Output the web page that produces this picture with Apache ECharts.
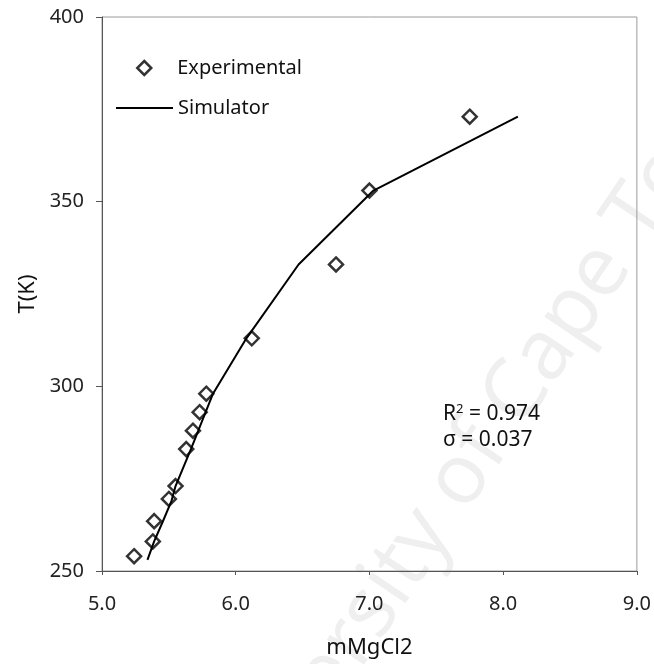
<!DOCTYPE html>
<html>
<head>
<meta charset="utf-8">
<script src="https://cdn.jsdelivr.net/npm/echarts@6/dist/echarts.min.js"></script>
<style>
  html, body { margin: 0; padding: 0; background: #fff; }
  #chart { width: 654px; height: 664px; }
</style>
</head>
<body>
<div id="chart"></div>
<script>
// Measured points: MgCl2 molality vs temperature
const expMolality = [5.24, 5.38, 5.39, 5.50, 5.55, 5.63, 5.68, 5.73, 5.78, 6.12, 6.75, 7.00, 7.75];
const expTemp     = [254, 258, 263.5, 269.5, 273, 283, 288, 293, 298, 313, 333, 353, 373];

// Simulator prediction curve
const simMolality = [5.34, 5.39, 5.45, 5.52, 5.55, 5.665, 5.72, 5.775, 5.83, 6.08, 6.47, 7.03, 8.11];
const simTemp     = [253, 258, 263, 269, 273, 283, 288, 293, 298, 313, 333, 353, 373];

// Fit statistics
const fitR2 = '0.974';
const fitSigma = '0.037';

const FONT = '"Noto Sans", "Open Sans", sans-serif';
const expData = expMolality.map((x, i) => [x, expTemp[i]]);
const simData = simMolality.map((x, i) => [x, simTemp[i]]);

const legendText = { fontFamily: FONT, fontSize: 20, color: '#111' };

const chart = echarts.init(document.getElementById('chart'), null, { renderer: 'canvas' });
chart.setOption({
  backgroundColor: '#fff',
  animation: false,
  grid: {
    left: 102, right: 13, top: 17, bottom: 93,
    show: true, borderColor: '#9a9a9a', borderWidth: 1, backgroundColor: 'transparent'
  },
  legend: [
    {
      left: 136, top: 58, padding: 0,
      itemWidth: 14, itemHeight: 14,
      textStyle: Object.assign({ padding: [0, 0, 0, 21] }, legendText),
      data: [{ name: 'Experimental', icon: 'diamond',
        itemStyle: { color: 'transparent', borderColor: '#000', borderWidth: 2.5 } }]
    },
    {
      left: 115, top: 98, padding: 0,
      itemWidth: 57, itemHeight: 14,
      textStyle: legendText,
      data: [{ name: 'Simulator', itemStyle: { opacity: 0 },
        lineStyle: { color: '#000', width: 2 } }]
    }
  ],
  xAxis: {
    type: 'value', min: 5, max: 9, interval: 1,
    name: 'mMgCl2', nameLocation: 'middle', nameGap: 66,
    nameTextStyle: { fontFamily: FONT, fontSize: 22, color: '#111' },
    axisLine: { show: true, lineStyle: { color: '#555', width: 1 } },
    axisTick: { show: true, inside: false, length: 4, lineStyle: { color: '#555' } },
    axisLabel: { margin: 23, fontFamily: FONT, fontSize: 20, color: '#222',
      formatter: v => v.toFixed(1) },
    splitLine: { show: false }
  },
  yAxis: {
    type: 'value', min: 250, max: 400, interval: 50,
    name: 'T(K)', nameLocation: 'middle', nameGap: 63, nameRotate: 90,
    nameTextStyle: { fontFamily: FONT, fontSize: 22, color: '#111' },
    axisLine: { show: true, lineStyle: { color: '#555', width: 1 } },
    axisTick: { show: true, inside: false, length: 6, lineStyle: { color: '#555' } },
    axisLabel: { margin: 18, fontFamily: FONT, fontSize: 20, color: '#222' },
    splitLine: { show: false }
  },
  graphic: [
    { // faint diagonal watermark
      type: 'text', x: 480, y: 450, rotation: 56 * Math.PI / 180, z: -10, silent: true,
      style: { text: 'University of Cape Town', fill: '#efefef',
        font: '84px "Open Sans", "Noto Sans", sans-serif',
        textAlign: 'center', textVerticalAlign: 'middle' }
    },
    {
      type: 'text', x: 443, y: 414, z: 10,
      style: {
        text: '{a|R}{s|2}{a| = ' + fitR2 + '}',
        textVerticalAlign: 'middle',
        rich: {
          a: { fontFamily: FONT, fontSize: 21, fill: '#111', color: '#111' },
          s: { fontFamily: FONT, fontSize: 13, fill: '#111', color: '#111', verticalAlign: 'top', padding: [0, 0, 10, 0] }
        }
      }
    },
    {
      type: 'text', x: 443, y: 440, z: 10,
      style: { text: '\u03c3 = ' + fitSigma, textVerticalAlign: 'middle',
        font: '21px ' + FONT, fill: '#111' }
    }
  ],
  series: [
    {
      name: 'Experimental', type: 'scatter', data: expData,
      symbol: 'diamond', symbolSize: 14,
      itemStyle: { color: 'transparent', borderColor: '#000', borderWidth: 2.5 },
      z: 3
    },
    {
      name: 'Simulator', type: 'line', data: simData,
      symbol: 'none', smooth: false,
      itemStyle: { color: '#000' },
      lineStyle: { color: '#000', width: 2 },
      z: 4
    }
  ]
});
</script>
</body>
</html>
